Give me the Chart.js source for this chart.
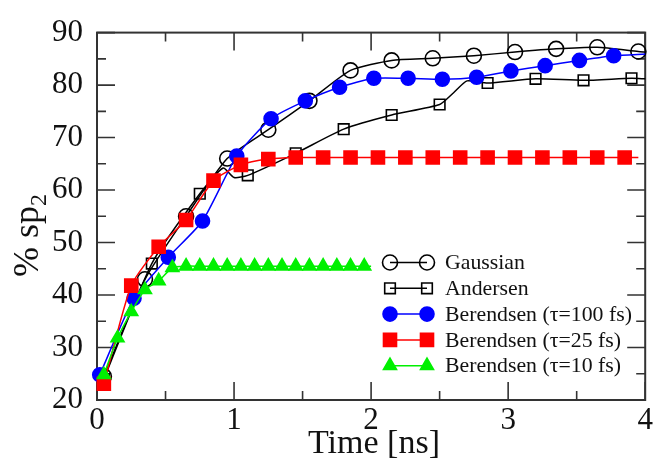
<!DOCTYPE html>
<html lang="en">
<head>
<meta charset="UTF-8">
<title>% sp2 vs time</title>
<script src="https://cdn.jsdelivr.net/npm/chart.js@4.4.1/dist/chart.umd.min.js"></script>
<style>
  html, body { margin: 0; padding: 0; background: #fff; }
</style>
</head>
<body>
<canvas id="chart" width="656" height="465"></canvas>
<script>
// values (time in ns, % sp2)
const gaussTime = [0.05, 0.35, 0.65, 0.95, 1.25, 1.55, 1.85, 2.15, 2.45, 2.75, 3.05, 3.35, 3.65, 3.95, 4.00];
const gaussVal  = [24.5, 43.0, 55.0, 66.0, 71.5, 77.0, 82.8, 84.7, 85.1, 85.6, 86.3, 86.9, 87.2, 86.4, 86.3];
const gaussMark = [1, 1, 1, 1, 1, 1, 1, 1, 1, 1, 1, 1, 1, 1, 0];

const andTime = [0.05, 0.40, 0.75, 0.92, 1.00, 1.10, 1.45, 1.80, 2.15, 2.50, 2.60, 2.70, 2.85, 3.20, 3.55, 3.90, 4.00];
const andVal  = [24.0, 46.0, 59.3, 64.2, 62.4, 62.8, 67.0, 71.6, 74.3, 76.3, 78.5, 80.8, 80.4, 81.2, 80.9, 81.3, 81.2];
const andMark = [1, 1, 1, 0, 0, 1, 1, 1, 1, 1, 0, 0, 1, 1, 1, 1, 0];

const b100Time = [0.02, 0.27, 0.52, 0.77, 1.02, 1.27, 1.52, 1.77, 2.02, 2.27, 2.52, 2.77, 3.02, 3.27, 3.52, 3.77, 4.00];
const b100Val  = [24.8, 39.4, 47.2, 54.1, 66.5, 73.6, 77.0, 79.6, 81.3, 81.3, 81.1, 81.5, 82.7, 83.7, 84.7, 85.6, 85.9];
const b100Mark = [1, 1, 1, 1, 1, 1, 1, 1, 1, 1, 1, 1, 1, 1, 1, 1, 0];

const b25Time = [0.05, 0.25, 0.45, 0.65, 0.85, 1.05, 1.25, 1.45, 1.65, 1.85, 2.05, 2.25, 2.45, 2.65, 2.85, 3.05, 3.25, 3.45, 3.65, 3.85, 3.95];
const b25Val  = [23.1, 41.8, 49.2, 54.3, 61.8, 64.8, 65.9, 66.2, 66.2, 66.2, 66.2, 66.2, 66.2, 66.2, 66.2, 66.2, 66.2, 66.2, 66.2, 66.2, 66.2];
const b25Mark = [1, 1, 1, 1, 1, 1, 1, 1, 1, 1, 1, 1, 1, 1, 1, 1, 1, 1, 1, 1, 0];

const b10Time = [0.05, 0.15, 0.25, 0.35, 0.45, 0.55, 0.65, 0.75, 0.85, 0.95, 1.05, 1.15, 1.25, 1.35, 1.45, 1.55, 1.65, 1.75, 1.85, 1.95, 2.00];
const b10Val  = [24.8, 31.8, 36.8, 41.0, 42.7, 45.2, 45.5, 45.5, 45.5, 45.5, 45.5, 45.5, 45.5, 45.5, 45.5, 45.5, 45.5, 45.5, 45.5, 45.5, 45.5];
const b10Mark = [1, 1, 1, 1, 1, 1, 1, 1, 1, 1, 1, 1, 1, 1, 1, 1, 1, 1, 1, 1, 0];

const seriesLabels = ['Gaussian', 'Andersen', 'Berendsen (τ=100 fs)', 'Berendsen (τ=25 fs)', 'Berendsen (τ=10 fs)'];
const xTickValues = [0, 1, 2, 3, 4];
const yTickValues = [20, 30, 40, 50, 60, 70, 80, 90];

const SERIF = "'Liberation Serif', 'Times New Roman', serif";

function pts(t, v) { return t.map((x, i) => ({ x: x, y: v[i] })); }
function radii(mark, r) { return mark.map(m => m ? r : 0); }

function makeSet(label, t, v, mark, color, style, r, fill, order) {
    return {
        label: label,
        data: pts(t, v),
        borderColor: color,
        borderWidth: 1.5,
        pointStyle: style,
        pointRadius: radii(mark, r),
        pointHoverRadius: radii(mark, r),
        pointBorderColor: color,
        pointBackgroundColor: fill,
        pointBorderWidth: 1.6,
        tension: 0.2,
        clip: false,
        order: order,
        _r: r
    };
}

const datasets = [
    makeSet(seriesLabels[0], gaussTime, gaussVal, gaussMark, '#000000', 'circle', 7.5, 'rgba(0,0,0,0)', 5),
    makeSet(seriesLabels[1], andTime, andVal, andMark, '#000000', 'rect', 7.5, 'rgba(0,0,0,0)', 4),
    makeSet(seriesLabels[2], b100Time, b100Val, b100Mark, '#0000ff', 'circle', 7, '#0000ff', 3),
    makeSet(seriesLabels[3], b25Time, b25Val, b25Mark, '#ff0000', 'rect', 9.2, '#ff0000', 2),
    makeSet(seriesLabels[4], b10Time, b10Val, b10Mark, '#00f000', 'triangle', 7.5, '#00f000', 1)
];

// frame with inward ticks on all four sides
const framePlugin = {
    id: 'frame',
    beforeDatasetsDraw(chart) {
        const { ctx, chartArea: a, scales: { x, y } } = chart;
        ctx.save();
        ctx.strokeStyle = '#333';
        ctx.lineWidth = 2;
        ctx.strokeRect(a.left, a.top, a.right - a.left, a.bottom - a.top);
        ctx.lineWidth = 1.6;
        ctx.beginPath();
        for (let v = 0; v <= 4.001; v += 0.5) {
            const px = x.getPixelForValue(v);
            const len = Math.abs(v - Math.round(v)) < 0.01 ? 18 : 9;
            ctx.moveTo(px, a.bottom); ctx.lineTo(px, a.bottom - len);
            ctx.moveTo(px, a.top); ctx.lineTo(px, a.top + len);
        }
        for (let v = 20; v <= 90.01; v += 5) {
            const py = y.getPixelForValue(v);
            const len = v % 10 === 0 ? 18 : 9;
            ctx.moveTo(a.left, py); ctx.lineTo(a.left + len, py);
            ctx.moveTo(a.right, py); ctx.lineTo(a.right - len, py);
        }
        ctx.stroke();
        ctx.restore();
    }
};

// legend (marker - line - marker) and axis titles
const decorPlugin = {
    id: 'decor',
    afterDraw(chart) {
        const ctx = chart.ctx;
        const x0 = 390, x1 = 427, tx = 445, top = 262.5, step = 25.8;
        ctx.save();
        chart.data.datasets.forEach((ds, i) => {
            const yy = top + i * step;
            ctx.strokeStyle = ds.borderColor;
            ctx.lineWidth = ds.borderWidth;
            ctx.beginPath(); ctx.moveTo(x0, yy); ctx.lineTo(x1, yy); ctx.stroke();
            ctx.fillStyle = ds.pointBackgroundColor;
            ctx.lineWidth = ds.pointBorderWidth;
            const opt = { pointStyle: ds.pointStyle, radius: ds._r, rotation: 0, borderWidth: ds.pointBorderWidth };
            Chart.helpers.drawPoint(ctx, opt, x0, yy);
            Chart.helpers.drawPoint(ctx, opt, x1, yy);
            ctx.fillStyle = '#111';
            ctx.font = '21.8px ' + SERIF;
            ctx.textBaseline = 'middle';
            ctx.textAlign = 'left';
            ctx.fillText(ds.label, tx, yy + 1);
        });

        // x title
        ctx.fillStyle = '#111';
        ctx.font = '34px ' + SERIF;
        ctx.textAlign = 'center';
        ctx.textBaseline = 'alphabetic';
        ctx.fillText('Time [ns]', 374, 453);

        // y title with subscript
        ctx.translate(38, 277);
        ctx.rotate(-Math.PI / 2);
        ctx.textAlign = 'left';
        ctx.font = '36px ' + SERIF;
        ctx.fillText('% sp', 0, 0);
        const w = ctx.measureText('% sp').width;
        ctx.font = '24px ' + SERIF;
        ctx.fillText('2', w, 8);
        ctx.restore();
    }
};

new Chart(document.getElementById('chart'), {
    type: 'line',
    data: { datasets: datasets },
    options: {
        responsive: false,
        animation: false,
        devicePixelRatio: 1,
        layout: { padding: { top: 25, right: 5, left: 0, bottom: 0 } },
        plugins: { legend: { display: false }, tooltip: { enabled: false } },
        scales: {
            x: {
                type: 'linear', min: 0, max: 4,
                afterBuildTicks: s => { s.ticks = xTickValues.map(v => ({ value: v })); },
                afterFit: s => { s.height = 65; },
                grid: { display: false, drawTicks: false },
                border: { display: false },
                ticks: { font: { family: SERIF, size: 31 }, color: '#111', padding: 2, maxRotation: 0 }
            },
            y: {
                type: 'linear', min: 20, max: 90,
                afterBuildTicks: s => { s.ticks = yTickValues.map(v => ({ value: v })); },
                afterFit: s => { s.width = 97; },
                grid: { display: false, drawTicks: false },
                border: { display: false },
                ticks: { font: { family: SERIF, size: 31 }, color: '#111', padding: 14 }
            }
        }
    },
    plugins: [framePlugin, decorPlugin]
});
</script>
</body>
</html>
